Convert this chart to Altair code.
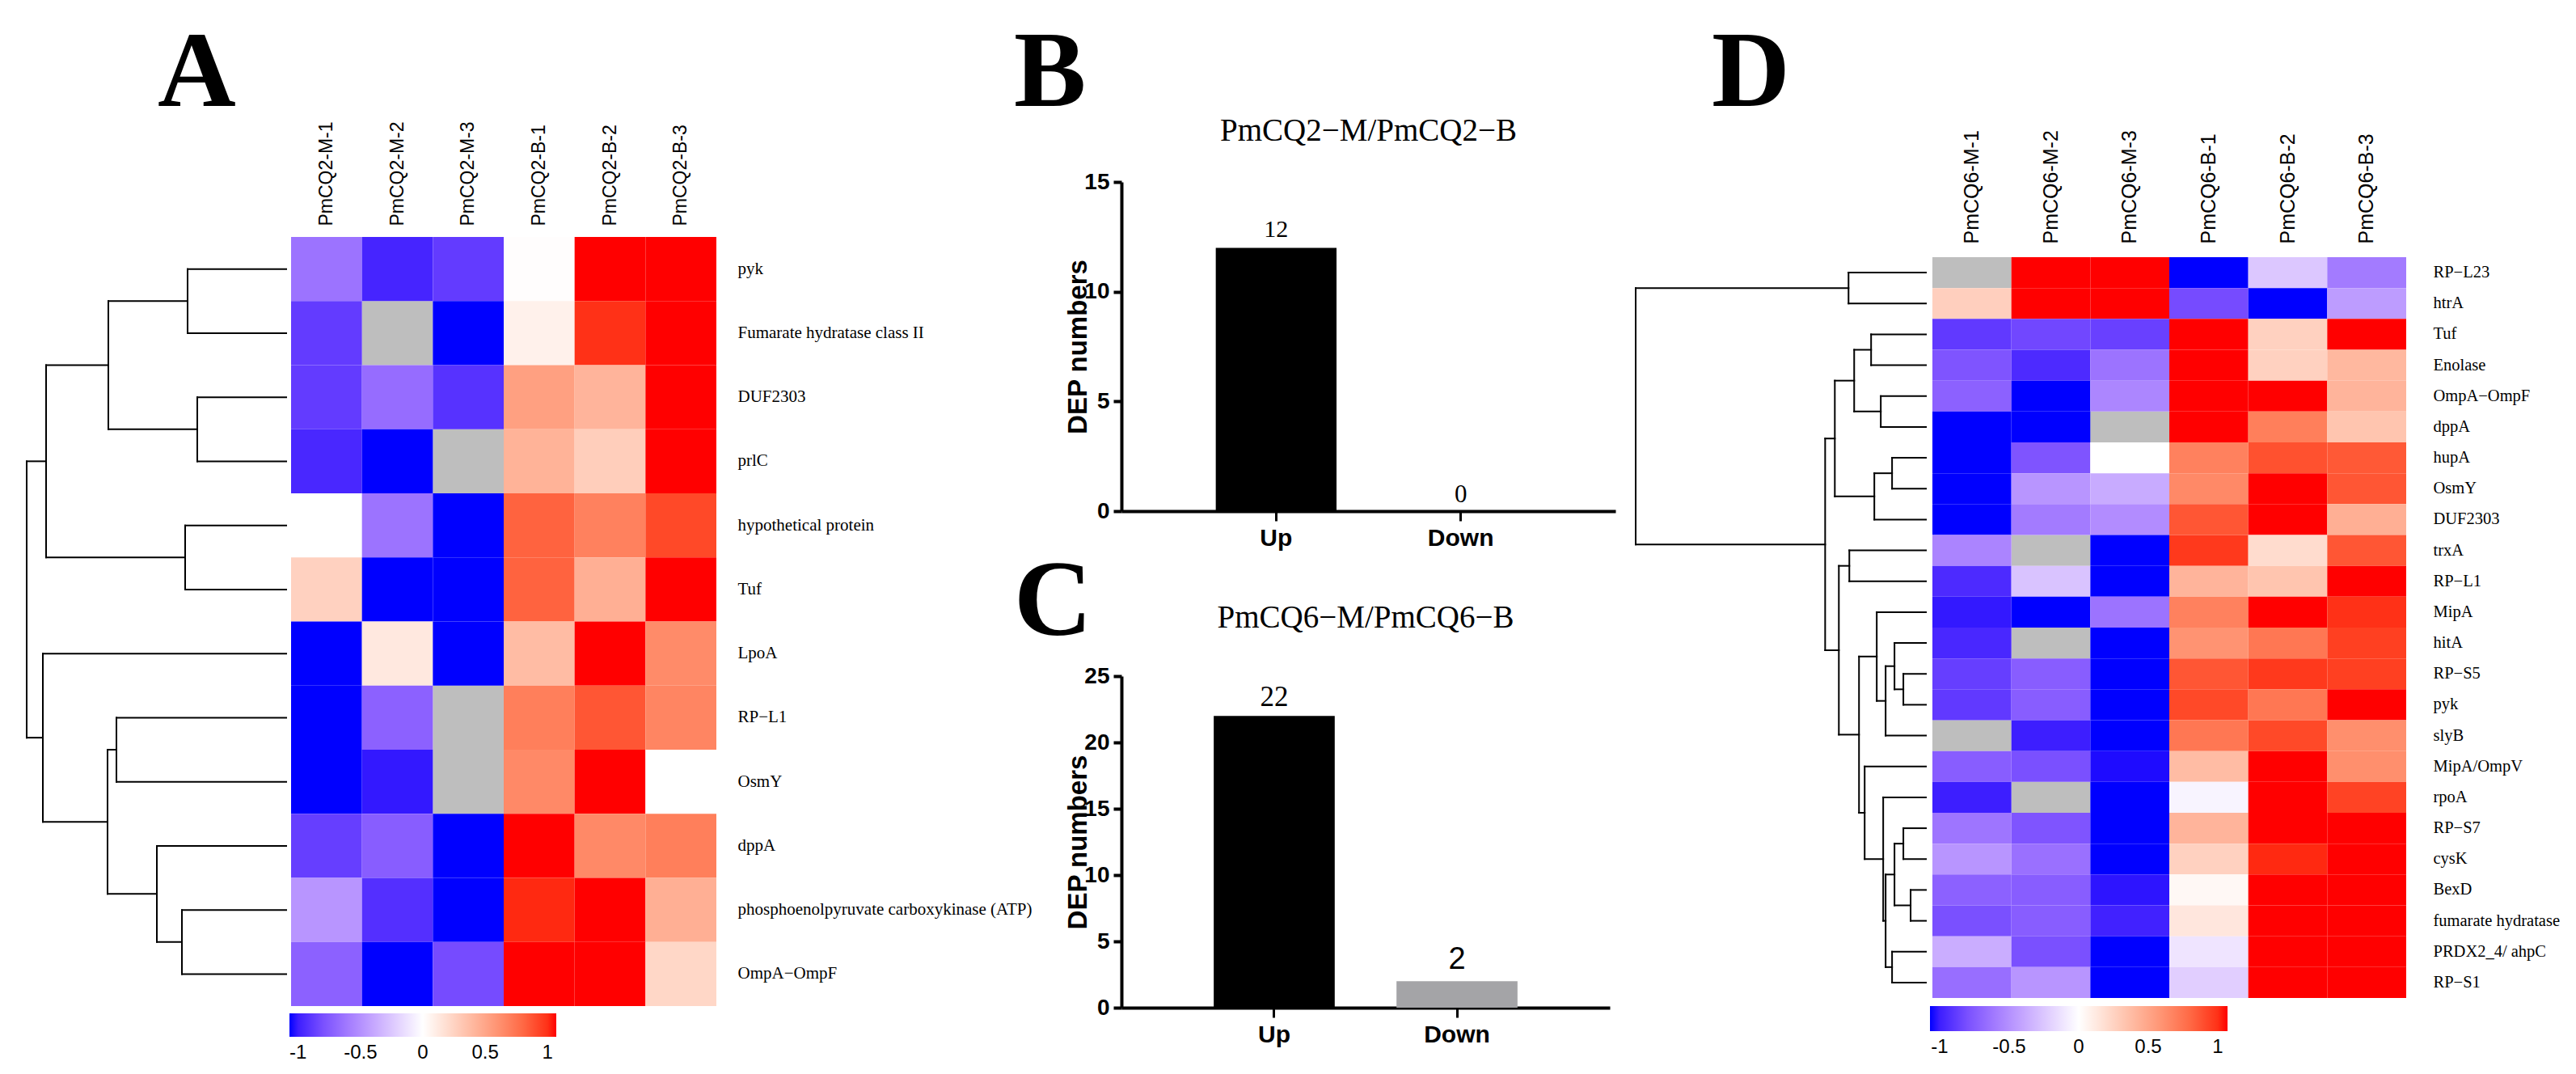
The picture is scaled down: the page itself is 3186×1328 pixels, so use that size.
import altair as alt
import pandas as pd

SERIF = "Liberation Serif"
SANS = "Liberation Sans"

# ---------------- Panel A data ----------------
a_cols = ["PmCQ2-M-1", "PmCQ2-M-2", "PmCQ2-M-3", "PmCQ2-B-1", "PmCQ2-B-2", "PmCQ2-B-3"]
a_rows = ["pyk", "Fumarate hydratase class II", "DUF2303", "prlC", "hypothetical protein", "Tuf",
          "LpoA", "RP\u2212L1", "OsmY", "dppA", "phosphoenolpyruvate carboxykinase (ATP)", "OmpA\u2212OmpF"]
a_values = [
    [-0.64, -0.98, -0.89, 0.01, 1.10, 1.10],
    [-0.89, None, -1.10, 0.08, 1.00, 1.10],
    [-0.89, -0.67, -0.93, 0.53, 0.42, 1.10],
    [-0.97, -1.10, None, 0.43, 0.28, 1.10],
    [0.00, -0.64, -1.10, 0.83, 0.69, 0.93],
    [0.26, -1.10, -1.10, 0.83, 0.45, 1.10],
    [-1.10, 0.13, -1.10, 0.38, 1.10, 0.64],
    [-1.10, -0.72, None, 0.70, 0.88, 0.67],
    [-1.10, -1.02, None, 0.65, 1.10, 0.00],
    [-0.88, -0.74, -1.10, 1.10, 0.65, 0.70],
    [-0.48, -0.94, -1.10, 1.02, 1.10, 0.45],
    [-0.72, -1.10, -0.82, 1.10, 1.10, 0.23],
]
# row clustering: (child, child, merge height); leaves 0..11, merges numbered from 12
a_links = [
    (0, 1, 1.22), (2, 3, 1.10), (12, 13, 2.20), (4, 5, 1.25), (14, 15, 2.97),
    (7, 8, 2.10), (10, 11, 1.29), (9, 18, 1.60), (17, 19, 2.21), (6, 20, 3.01),
    (16, 21, 3.21),
]

# ---------------- Panel B / C data ----------------
bar_cats = ["Up", "Down"]
b_counts = [12, 0]
c_counts = [22, 2]
b_title = "PmCQ2\u2212M/PmCQ2\u2212B"
c_title = "PmCQ6\u2212M/PmCQ6\u2212B"
b_ticks = [0, 5, 10, 15]
c_ticks = [0, 5, 10, 15, 20, 25]

# ---------------- Panel D data ----------------
d_cols = ["PmCQ6-M-1", "PmCQ6-M-2", "PmCQ6-M-3", "PmCQ6-B-1", "PmCQ6-B-2", "PmCQ6-B-3"]
d_rows = ["RP\u2212L23", "htrA", "Tuf", "Enolase", "OmpA\u2212OmpF", "dppA", "hupA", "OsmY",
          "DUF2303", "trxA", "RP\u2212L1", "MipA", "hitA", "RP\u2212S5", "pyk", "slyB",
          "MipA/OmpV", "rpoA", "RP\u2212S7", "cysK", "BexD", "fumarate hydratase",
          "PRDX2_4/ ahpC", "RP\u2212S1"]
d_values = [
    [None, 1.10, 1.10, -1.10, -0.25, -0.60],
    [0.27, 1.10, 1.10, -0.82, -1.10, -0.45],
    [-0.90, -0.84, -0.87, 1.10, 0.26, 1.10],
    [-0.78, -0.96, -0.64, 1.10, 0.26, 0.40],
    [-0.72, -1.10, -0.55, 1.10, 1.10, 0.42],
    [-1.10, -1.10, None, 1.10, 0.70, 0.33],
    [-1.10, -0.78, 0.00, 0.69, 0.90, 0.87],
    [-1.10, -0.48, -0.38, 0.65, 1.10, 0.88],
    [-1.10, -0.60, -0.52, 0.88, 1.10, 0.45],
    [-0.56, None, -1.10, 0.98, 0.20, 0.88],
    [-0.96, -0.27, -1.10, 0.42, 0.33, 1.10],
    [-1.02, -1.10, -0.64, 0.69, 1.10, 1.00],
    [-0.97, None, -1.10, 0.60, 0.74, 0.96],
    [-0.88, -0.74, -1.10, 0.88, 0.98, 0.96],
    [-0.90, -0.74, -1.10, 0.93, 0.74, 1.10],
    [None, -1.00, -1.10, 0.74, 0.93, 0.62],
    [-0.74, -0.80, -1.05, 0.38, 1.10, 0.62],
    [-1.00, None, -1.10, -0.05, 1.10, 0.95],
    [-0.63, -0.78, -1.10, 0.42, 1.10, 1.10],
    [-0.48, -0.65, -1.10, 0.26, 1.02, 1.10],
    [-0.72, -0.74, -1.03, 0.04, 1.10, 1.10],
    [-0.80, -0.74, -0.99, 0.14, 1.10, 1.10],
    [-0.37, -0.80, -1.10, -0.12, 1.10, 1.10],
    [-0.66, -0.48, -1.10, -0.22, 1.10, 1.10],
]
# leaves 0..23, merges numbered from 24
d_links = [
    (0, 1, 0.96), (2, 3, 0.68), (4, 5, 0.56), (25, 26, 0.89), (6, 7, 0.42),
    (28, 8, 0.64), (27, 29, 1.13), (9, 10, 0.95), (13, 14, 0.28), (12, 32, 0.39),
    (33, 15, 0.50), (11, 34, 0.61), (18, 19, 0.28), (20, 21, 0.19), (36, 37, 0.39),
    (22, 23, 0.42), (38, 39, 0.50), (17, 40, 0.53), (16, 41, 0.76), (35, 42, 0.83),
    (31, 43, 1.08), (30, 44, 1.25), (24, 45, 3.60),
]

LEGEND_VALUES = [-1, -0.5, 0, 0.5, 1]
COLOR_DOMAIN = [-1.07, 0, 1.07]
COLOR_RANGE = ["#0000FF", "#FFFFFF", "#FF0000"]
NA_COLOR = "#BEBEBE"
BAR_COLORS = ["#000000", "#A4A4A7"]
LETTER_SIZE = 134


def heat_frame(rows, cols, values):
    recs = []
    for r, vals in zip(rows, values):
        for c, v in zip(cols, vals):
            recs.append({"row": r, "col": c, "v": v})
    return pd.DataFrame(recs)


def dendro_frame(n_leaves, links):
    pos = {i: i + 0.5 for i in range(n_leaves)}
    hgt = {i: 0.0 for i in range(n_leaves)}
    segs = []
    for k, (a, b, h) in enumerate(links):
        segs.append({"x": h, "x2": h, "y": pos[a], "y2": pos[b]})
        segs.append({"x": hgt[a], "x2": h, "y": pos[a], "y2": pos[a]})
        segs.append({"x": hgt[b], "x2": h, "y": pos[b], "y2": pos[b]})
        node = n_leaves + k
        pos[node] = (pos[a] + pos[b]) / 2
        hgt[node] = h
    return pd.DataFrame(segs)


def dendrogram(n_leaves, links, w, h):
    df = dendro_frame(n_leaves, links)
    hmax = max(l[2] for l in links)
    return alt.Chart(df).mark_rule(color="black", strokeWidth=2, strokeCap="square").encode(
        x=alt.X("x:Q", scale=alt.Scale(domain=[0, hmax], reverse=True, nice=False, zero=False), axis=None),
        x2="x2:Q",
        y=alt.Y("y:Q", scale=alt.Scale(domain=[0, n_leaves], reverse=True, nice=False, zero=False), axis=None),
        y2="y2:Q",
    ).properties(width=w, height=h)


def heatmap(rows, cols, values, w, h, col_font, col_pad, row_font, row_pad,
            leg_x, leg_y, leg_len, leg_thick, leg_label_off):
    df = heat_frame(rows, cols, values)
    base = alt.Chart(df).encode(
        x=alt.X("col:N", scale=alt.Scale(domain=cols, paddingInner=0, paddingOuter=0),
                axis=alt.Axis(orient="top", labelAngle=270, ticks=False, domain=False, title=None,
                              labelFont=SANS, labelFontSize=col_font, labelPadding=col_pad,
                              labelColor="black", labelLimit=0)),
        y=alt.Y("row:N", scale=alt.Scale(domain=rows, paddingInner=0, paddingOuter=0),
                axis=alt.Axis(orient="right", ticks=False, domain=False, title=None,
                              labelFont=SERIF, labelFontSize=row_font, labelPadding=row_pad,
                              labelColor="black", labelLimit=0)),
    )
    na = base.transform_filter("!isValid(datum.v)").mark_rect(color=NA_COLOR)
    val = base.transform_filter("isValid(datum.v)").mark_rect().encode(
        color=alt.Color(
            "v:Q",
            scale=alt.Scale(domain=COLOR_DOMAIN, range=COLOR_RANGE, interpolate="lab", clamp=True),
            legend=alt.Legend(orient="none", legendX=leg_x, legendY=leg_y, direction="horizontal",
                              title=None, gradientLength=leg_len, gradientThickness=leg_thick,
                              gradientStrokeWidth=0, values=LEGEND_VALUES, format="~g",
                              labelFont=SANS, labelFontSize=24, labelColor="black",
                              labelOffset=leg_label_off, labelOverlap=False,
                              labelExpr="replace(datum.label, '\u2212', '-')"),
        )
    )
    return alt.layer(na, val).properties(width=w, height=h)


def barchart(counts, ymax, ticks, w, h, title, title_offset, label_styles, p_inner, p_outer):
    df = pd.DataFrame({"cat": bar_cats, "n": counts})
    x = alt.X("cat:N", scale=alt.Scale(domain=bar_cats, paddingInner=p_inner, paddingOuter=p_outer),
              axis=alt.Axis(title=None, labelAngle=0, domainWidth=4, domainColor="black",
                            tickWidth=3, tickSize=12, tickColor="black", labelFont=SANS,
                            labelFontWeight="bold", labelFontSize=30, labelPadding=6,
                            labelColor="black"))
    y = alt.Y("n:Q", scale=alt.Scale(domain=[0, ymax], nice=False, zero=True),
              axis=alt.Axis(values=ticks, grid=False, domainWidth=4, domainColor="black",
                            tickWidth=4, tickSize=10, tickColor="black", labelFont=SANS,
                            labelFontWeight="bold", labelFontSize=28, labelPadding=5,
                            labelColor="black", title="DEP numbers", titleFont=SANS,
                            titleFontWeight="bold", titleFontSize=33, titleColor="black",
                            titlePadding=-10))
    bars = alt.Chart(df).mark_bar().encode(
        x=x, y=y,
        color=alt.Color("cat:N", scale=alt.Scale(domain=bar_cats, range=BAR_COLORS), legend=None),
    )
    layers = [bars]
    for cat, (font, size, dy) in zip(bar_cats, label_styles):
        layers.append(
            alt.Chart(df).transform_filter(alt.datum.cat == cat).mark_text(
                font=font, fontSize=size, dy=dy, baseline="alphabetic", color="black"
            ).encode(x=x, y=y, text="n:Q")
        )
    return alt.layer(*layers).properties(
        width=w, height=h,
        title=alt.TitleParams(title, font=SERIF, fontSize=39, fontWeight="normal", color="black",
                              anchor="middle", frame="group", offset=title_offset),
    )


def letter_chart(letter, dx):
    # an empty 1x1 view that only carries the panel letter as its title
    return alt.Chart(pd.DataFrame({"v": [0]})).mark_point(size=0, opacity=0).encode(
        x=alt.X("v:Q", axis=None), y=alt.Y("v:Q", axis=None)
    ).properties(
        width=1, height=1,
        title=alt.TitleParams(letter, font=SERIF, fontSize=LETTER_SIZE, fontWeight="bold",
                              color="black", anchor="start", frame="group", dx=dx, offset=0),
    )


IND = dict(x="independent", y="independent", color="independent")

# Panel A
dendro_a = dendrogram(len(a_rows), a_links, 321, 951)
heat_a = heatmap(a_rows, a_cols, a_values, 526, 951, 23, 14, 21, 26, -2, 960, 330, 29, 8)
group_a = alt.hconcat(dendro_a, heat_a, spacing=6, bounds="flush").resolve_scale(**IND)
panel_a = alt.vconcat(letter_chart("A", 162), group_a, spacing=-11).resolve_scale(**IND)

# Panels B / C
bar_b = barchart(b_counts, 15, b_ticks, 611, 407, b_title, 29,
                 [(SERIF, 30, -13), (SERIF, 31, -11)], 0.346, 0.511)
bar_c = barchart(c_counts, 25, c_ticks, 604, 410, c_title, 38,
                 [(SERIF, 35, -12), (SANS, 38, -15)], 0.338, 0.505)
group_b = alt.vconcat(letter_chart("B", -133), bar_b, spacing=-17).resolve_scale(**IND)
group_c = alt.vconcat(letter_chart("C", -133), bar_c, spacing=-69).resolve_scale(**IND)
panel_bc = alt.vconcat(group_b, group_c, spacing=-2).resolve_scale(**IND)

# Panel D
dendro_d = dendrogram(len(d_rows), d_links, 359, 916)
heat_d = heatmap(d_rows, d_cols, d_values, 586, 916, 25, 17, 20.5, 33, -3, 926, 368, 31, 8)
group_d = alt.hconcat(dendro_d, heat_d, spacing=8, bounds="flush").resolve_scale(**IND)
panel_d = alt.vconcat(letter_chart("D", 94), group_d, spacing=0).resolve_scale(**IND)

left = alt.hconcat(panel_a, panel_bc, spacing=-22).resolve_scale(**IND)
chart = alt.hconcat(left, panel_d, spacing=23).resolve_scale(**IND).properties(
    padding={"left": 23, "top": 16, "right": 5, "bottom": 5},
    background="white",
).configure_view(stroke=None)

chart.save("out.html", embed_options={"renderer": "svg", "actions": False})
